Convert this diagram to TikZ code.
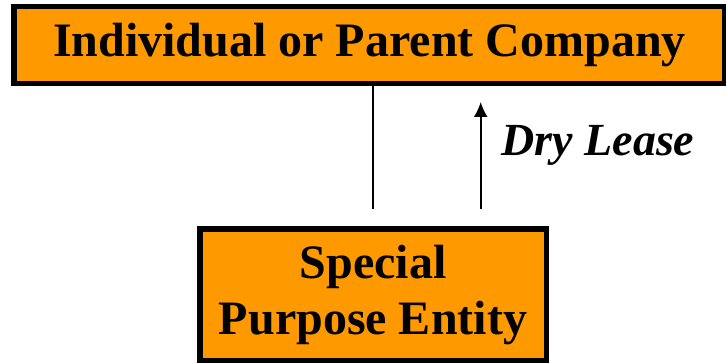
\documentclass[tikz,border=0pt]{standalone}
\usepackage{fontspec}
\setmainfont{Liberation Serif}
\usepackage{tikz}
\usetikzlibrary{arrows.meta}
\definecolor{boxorange}{RGB}{255,153,0}

\tikzset{
  entity/.style={draw=black, fill=boxorange, line width=5.5pt, inner sep=0pt,
    font=\fontsize{48}{56}\selectfont\bfseries, align=center},
  link/.style={line width=1.8pt}
}

\begin{document}
\begin{tikzpicture}[x=1pt,y=1pt]
    \useasboundingbox (0,0) rectangle (726,363);
    \node[entity, minimum width=711pt, minimum height=77pt] (parent)
      at (369.5,318) {Individual or Parent Company};
    \node[entity, minimum width=346.5pt, minimum height=132pt] (spe)
      at (373,68) {Special\\Purpose Entity};
    \coordinate (lineend) at (372.7,154);
    \coordinate (leasebase) at (480.7,154);
    \coordinate (leasetip) at (480.7,261);
    \draw[link] (parent.south -| lineend) -- (lineend);
    \draw[link, -{Latex[length=15pt,width=14pt]}] (leasebase) -- (leasetip);
    \node[anchor=west, font=\fontsize{46}{50}\selectfont\bfseries\itshape] (lease)
      at (498,218) {Dry Lease};
\end{tikzpicture}
\end{document}
